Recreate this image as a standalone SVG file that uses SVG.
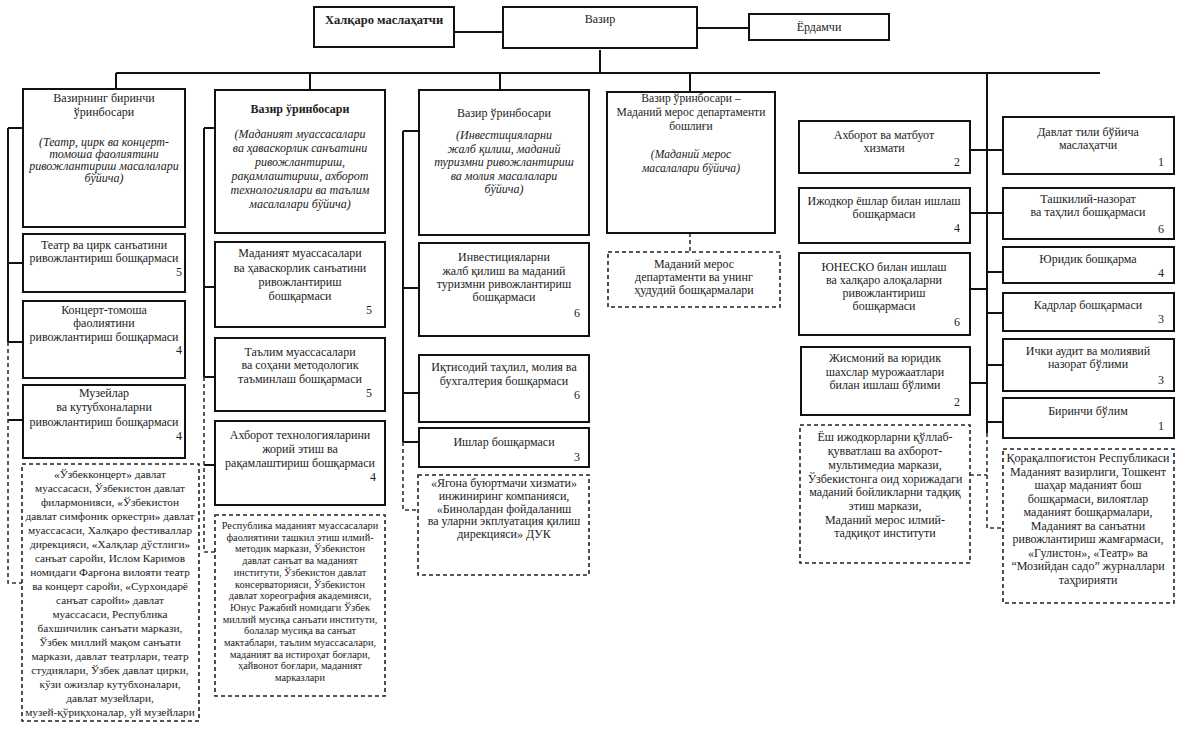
<svg xmlns="http://www.w3.org/2000/svg" width="1181" height="734" viewBox="0 0 1181 734">
<style>
text{font-family:"Liberation Serif","Times New Roman",serif;fill:#222;text-anchor:middle;font-size:12px}
.b{font-weight:bold}
.i{font-style:italic}
.n{text-anchor:end}
.box{fill:#fff;stroke:#111;stroke-width:2}
.dbox{fill:#fff;stroke:#222;stroke-width:1.6;stroke-dasharray:4 3}
.ln{stroke:#111;stroke-width:2;fill:none}
.dl{stroke:#333;stroke-width:1.6;stroke-dasharray:4 3;fill:none}
.s116{font-size:11.6px}
.s113{font-size:11.3px}
.s103{font-size:10.3px}
</style>
<rect width="1181" height="734" fill="#fff"/>
<g id="connectors">
<path class="ln" d="M454 32H503M697 28H749M600 50V73M116 73H1100M116 73V89M310 73V90M500 73V90M690 73V92M987 73V433"/>
<path class="ln" d="M8 128V342M8 128H23M8 263H23M8 342H23M8 420H23"/>
<path class="dl" d="M8 342V583H22"/>
<path class="ln" d="M204 128V377M204 128H215M204 287H215M204 377H215M204 465H215"/>
<path class="dl" d="M204 377V552H215"/>
<path class="ln" d="M403 131V442M403 131H419M403 288H419M403 393H419M403 442H419"/>
<path class="dl" d="M403 442V510H418"/>
<path class="dl" d="M690 233V252"/>
<path class="ln" d="M970 150H1003M970 213H1003M970 289H987M970 383H987M987 272H1003M987 313H1003M987 365H1003M987 422H1003"/>
<path class="dl" d="M987 433V528H1003M970 475H987"/>
</g>
<g id="n-intl"><rect class="box" x="314" y="7" width="140" height="40"/><text class="b" x="384" y="24" style="font-size:12.5px">Халқаро маслаҳатчи</text></g>
<g id="n-vazir"><rect class="box" x="503" y="7" width="194" height="41"/><text x="600" y="23">Вазир</text></g>
<g id="n-yordamchi"><rect class="box" x="749" y="14" width="140" height="26"/><text x="819" y="31">Ёрдамчи</text></g>

<g id="n-c1-main"><rect class="box" x="23" y="89" width="162" height="138"/>
<text x="104" y="102">Вазирнинг биринчи</text><text x="104" y="116">ўринбосари</text>
<text class="i" x="104" y="146">(Театр, цирк ва концерт-</text><text class="i" x="104" y="158">томоша фаолиятини</text><text class="i" x="104" y="170">ривожлантириш масалалари</text><text class="i" x="104" y="182">бўйича)</text></g>
<g id="n-c1-1"><rect class="box" x="23" y="234" width="162" height="58"/>
<text x="104" y="249">Театр ва цирк санъатини</text><text x="104" y="262">ривожлантириш бошқармаси</text><text class="n" x="182" y="276">5</text></g>
<g id="n-c1-2"><rect class="box" x="23" y="301" width="162" height="77"/>
<text x="104" y="314">Концерт-томоша</text><text x="104" y="327">фаолиятини</text><text x="104" y="341">ривожлантириш бошқармаси</text><text class="n" x="182" y="354">4</text></g>
<g id="n-c1-3"><rect class="box" x="23" y="385" width="162" height="73"/>
<text x="104" y="397">Музейлар</text><text x="104" y="411">ва кутубхоналарни</text><text x="104" y="426">ривожлантириш бошқармаси</text><text class="n" x="182" y="440">4</text></g>
<g id="n-c1-d"><rect class="dbox" x="22" y="464" width="177" height="257"/>
<text x="110" y="478" class="s113">«Ўзбекконцерт» давлат</text>
<text x="110" y="492" class="s113">муассасаси, Ўзбекистон давлат</text>
<text x="110" y="506" class="s113">филармонияси, «Ўзбекистон</text>
<text x="110" y="520" class="s113">давлат симфоник оркестри» давлат</text>
<text x="110" y="534" class="s113">муассасаси, Халқаро фестиваллар</text>
<text x="110" y="548" class="s113">дирекцияси, «Халқлар дўстлиги»</text>
<text x="110" y="562" class="s113">санъат саройи, Ислом Каримов</text>
<text x="110" y="576" class="s113">номидаги Фарғона вилояти театр</text>
<text x="110" y="590" class="s113">ва концерт саройи, «Сурхондарё</text>
<text x="110" y="604" class="s113">санъат саройи» давлат</text>
<text x="110" y="618" class="s113">муассасаси, Республика</text>
<text x="110" y="632" class="s113">бахшичилик санъати маркази,</text>
<text x="110" y="646" class="s113">Ўзбек миллий мақом санъати</text>
<text x="110" y="660" class="s113">маркази, давлат театрлари, театр</text>
<text x="110" y="674" class="s113">студиялари, Ўзбек давлат цирки,</text>
<text x="110" y="688" class="s113">кўзи ожизлар кутубхоналари,</text>
<text x="110" y="702" class="s113">давлат музейлари,</text>
<text x="110" y="716" class="s113">музей-қўриқхоналар, уй музейлари</text>
</g>

<g id="n-c2-main"><rect class="box" x="215" y="90" width="170" height="143"/>
<text class="b" x="300" y="113">Вазир ўринбосари</text>
<text class="i" x="300" y="138">(Маданият муассасалари</text><text class="i" x="300" y="152">ва ҳаваскорлик санъатини</text><text class="i" x="300" y="166">ривожлантириш,</text><text class="i" x="300" y="180">рақамлаштириш, ахборот</text><text class="i" x="300" y="194">технологиялари ва таълим</text><text class="i" x="300" y="208">масалалари бўйича)</text></g>
<g id="n-c2-1"><rect class="box" x="215" y="242" width="170" height="85"/>
<text x="300" y="257">Маданият муассасалари</text><text x="300" y="272">ва ҳаваскорлик санъатини</text><text x="300" y="286">ривожлантириш</text><text x="300" y="300">бошқармаси</text><text class="n" x="372" y="314">5</text></g>
<g id="n-c2-2"><rect class="box" x="215" y="338" width="170" height="73"/>
<text x="300" y="356">Таълим муассасалари</text><text x="300" y="369">ва соҳани методологик</text><text x="300" y="383">таъминлаш бошқармаси</text><text class="n" x="372" y="397">5</text></g>
<g id="n-c2-3"><rect class="box" x="215" y="421" width="170" height="84"/>
<text x="300" y="439">Ахборот технологияларини</text><text x="300" y="453">жорий этиш ва</text><text x="300" y="467">рақамлаштириш бошқармаси</text><text class="n" x="376" y="481">4</text></g>
<g id="n-c2-d"><rect class="dbox" x="215" y="515" width="170" height="181"/>
<text class="s103" x="300" y="529">Республика маданият муассасалари</text>
<text class="s103" x="300" y="540.7">фаолиятини ташкил этиш илмий-</text>
<text class="s103" x="300" y="552.4">методик маркази, Ўзбекистон</text>
<text class="s103" x="300" y="564.1">давлат санъат ва маданият</text>
<text class="s103" x="300" y="575.8">институти, Ўзбекистон давлат</text>
<text class="s103" x="300" y="587.5">консерваторияси, Ўзбекистон</text>
<text class="s103" x="300" y="599.2">давлат хореография академияси,</text>
<text class="s103" x="300" y="610.9">Юнус Ражабий номидаги Ўзбек</text>
<text class="s103" x="300" y="622.6">миллий мусиқа санъати институти,</text>
<text class="s103" x="300" y="634.3">болалар мусиқа ва санъат</text>
<text class="s103" x="300" y="646">мактаблари, таълим муассасалари,</text>
<text class="s103" x="300" y="657.7">маданият ва истироҳат боғлари,</text>
<text class="s103" x="300" y="669.4">ҳайвонот боғлари, маданият</text>
<text class="s103" x="300" y="681.1">марказлари</text></g>

<g id="n-c3-main"><rect class="box" x="419" y="90" width="170" height="145"/>
<text x="504" y="117">Вазир ўринбосари</text>
<text class="i" x="504" y="139">(Инвестицияларни</text><text class="i" x="504" y="152.5">жалб қилиш, маданий</text><text class="i" x="504" y="166">туризмни ривожлантириш</text><text class="i" x="504" y="179.5">ва молия масалалари</text><text class="i" x="504" y="193">бўйича)</text></g>
<g id="n-c3-1"><rect class="box" x="419" y="243" width="170" height="93"/>
<text x="504" y="261">Инвестицияларни</text><text x="504" y="275">жалб қилиш ва маданий</text><text x="504" y="288">туризмни ривожлантириш</text><text x="504" y="301">бошқармаси</text><text class="n" x="580" y="317">6</text></g>
<g id="n-c3-2"><rect class="box" x="419" y="355" width="170" height="67"/>
<text x="504" y="371">Иқтисодий таҳлил, молия ва</text><text x="504" y="385">бухгалтерия бошқармаси</text><text class="n" x="580" y="399">6</text></g>
<g id="n-c3-3"><rect class="box" x="419" y="428" width="170" height="39"/>
<text x="504" y="446">Ишлар бошқармаси</text><text class="n" x="580" y="461">3</text></g>
<g id="n-c3-d"><rect class="dbox" x="418" y="475" width="171" height="100"/>
<text x="504" y="487">«Ягона буюртмачи хизмати»</text><text x="504" y="500">инжиниринг компанияси,</text><text x="504" y="512.5">«Бинолардан фойдаланиш</text><text x="504" y="525">ва уларни экплуатация қилиш</text><text x="504" y="537.5">дирекцияси» ДУК</text></g>

<g id="n-c4-main"><rect class="box" x="607" y="92" width="168" height="141"/>
<text class="s116" x="691" y="102">Вазир ўринбосари –</text><text class="s116" x="691" y="116">Маданий мерос департаменти</text><text class="s116" x="691" y="130">бошлиғи</text>
<text class="i s116" x="691" y="158">(Маданий мерос</text><text class="i s116" x="691" y="172">масалалари бўйича)</text></g>
<g id="n-c4-d"><rect class="dbox" x="608" y="252" width="172" height="55"/>
<text x="694" y="268">Маданий мерос</text><text x="694" y="281">департаменти ва унинг</text><text x="694" y="294">ҳудудий бошқармалари</text></g>

<g id="n-c5-1"><rect class="box" x="799" y="121" width="171" height="52"/>
<text x="884" y="139">Ахборот ва матбуот</text><text x="884" y="152">хизмати</text><text class="n" x="960" y="166">2</text></g>
<g id="n-c5-2"><rect class="box" x="799" y="188" width="171" height="55"/>
<text x="884" y="205">Ижодкор ёшлар билан ишлаш</text><text x="884" y="218">бошқармаси</text><text class="n" x="960" y="232">4</text></g>
<g id="n-c5-3"><rect class="box" x="799" y="253" width="171" height="82"/>
<text x="884" y="271">ЮНЕСКО билан ишлаш</text><text x="884" y="284">ва халқаро алоқаларни</text><text x="884" y="297">ривожлантириш</text><text x="884" y="310">бошқармаси</text><text class="n" x="960" y="326">6</text></g>
<g id="n-c5-4"><rect class="box" x="801" y="347" width="169" height="68"/>
<text x="885" y="362">Жисмоний ва юридик</text><text x="885" y="376">шахслар мурожаатлари</text><text x="885" y="389">билан ишлаш бўлими</text><text class="n" x="960" y="406">2</text></g>
<g id="n-c5-d"><rect class="dbox" x="800" y="425" width="170" height="138"/>
<text x="885" y="441">Ёш ижодкорларни қўллаб-</text><text x="885" y="455">қувватлаш ва ахборот-</text><text x="885" y="469">мультимедиа маркази,</text><text x="885" y="483">Ўзбекистонга оид хорижадаги</text><text x="885" y="496">маданий бойликларни тадқиқ</text><text x="885" y="510">этиш маркази,</text><text x="885" y="524">Маданий мерос илмий-</text><text x="885" y="537">тадқиқот институти</text></g>

<g id="n-c6-1"><rect class="box" x="1003" y="117" width="171" height="57"/>
<text x="1088" y="136">Давлат тили бўйича</text><text x="1088" y="149">маслаҳатчи</text><text class="n" x="1164" y="166">1</text></g>
<g id="n-c6-2"><rect class="box" x="1003" y="188" width="171" height="51"/>
<text x="1088" y="203">Ташкилий-назорат</text><text x="1088" y="216">ва таҳлил бошқармаси</text><text class="n" x="1164" y="233">6</text></g>
<g id="n-c6-3"><rect class="box" x="1003" y="247" width="171" height="36"/>
<text x="1088" y="263">Юридик бошқарма</text><text class="n" x="1164" y="277">4</text></g>
<g id="n-c6-4"><rect class="box" x="1003" y="293" width="171" height="38"/>
<text x="1088" y="309">Кадрлар бошқармаси</text><text class="n" x="1164" y="323">3</text></g>
<g id="n-c6-5"><rect class="box" x="1003" y="339" width="171" height="52"/>
<text x="1088" y="355">Ички аудит ва молиявий</text><text x="1088" y="368">назорат бўлими</text><text class="n" x="1164" y="384">3</text></g>
<g id="n-c6-6"><rect class="box" x="1003" y="398" width="171" height="40"/>
<text x="1088" y="415">Биринчи бўлим</text><text class="n" x="1164" y="430">1</text></g>
<g id="n-c6-d"><rect class="dbox" x="1003" y="449" width="171" height="154"/>
<text x="1088" y="462">Қорақалпоғистон Республикаси</text><text x="1088" y="475.5">Маданият вазирлиги, Тошкент</text><text x="1088" y="489">шаҳар маданият бош</text><text x="1088" y="502.5">бошқармаси, вилоятлар</text><text x="1088" y="516">маданият бошқармалари,</text><text x="1088" y="529.5">Маданият ва санъатни</text><text x="1088" y="543">ривожлантириш жамғармаси,</text><text x="1088" y="556.5">«Гулистон», «Театр» ва</text><text x="1088" y="570">“Мозийдан садо” журналлари</text><text x="1088" y="583.5">таҳририяти</text></g>
</svg>
